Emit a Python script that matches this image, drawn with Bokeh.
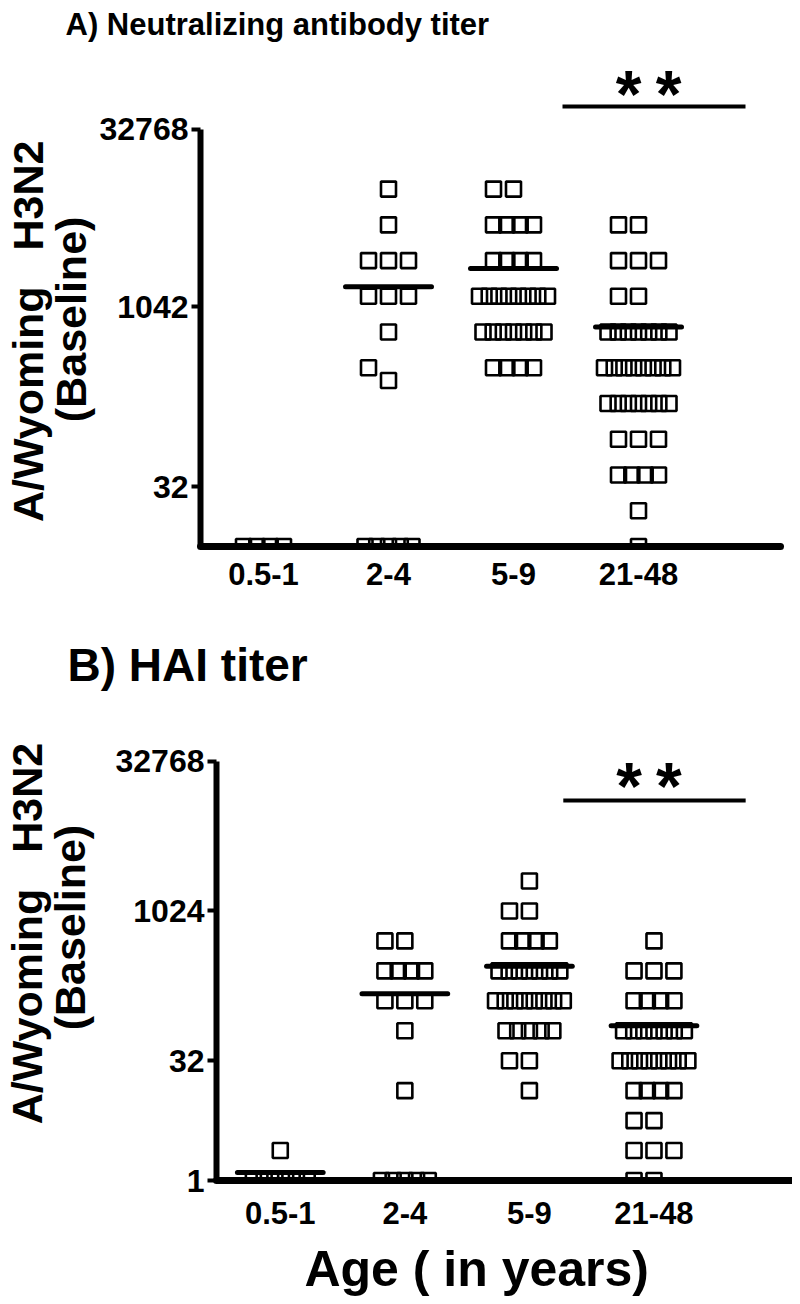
import numpy as np
from bokeh.plotting import figure
from bokeh.models import Range1d, FixedTicker, CustomJSTickFormatter
from bokeh.core.properties import value
from bokeh.embed import file_html
from bokeh.resources import INLINE

FONT = "Liberation Sans"
NB = "\u00a0"

categories = ["0.5-1", "2-4", "5-9", "21-48"]

# ---- Panel A: neutralizing antibody titer (titer value, number of subjects)
a1_titer = [10];                                              a1_count = [4]
a2_titer = [10240, 5120, 2560, 1280, 640, 320, 250, 10];      a2_count = [1, 1, 3, 3, 1, 1, 1, 5]
a3_titer = [10240, 5120, 2560, 1280, 640, 320];               a3_count = [2, 4, 4, 8, 7, 4]
a4_titer = [5120, 2560, 1280, 640, 320, 160, 80, 40, 20, 10]; a4_count = [2, 3, 2, 7, 8, 7, 3, 4, 1, 1]
a_center = [None, 1540, 2200, 705]

# ---- Panel B: HAI titer
b1_titer = [4, 2];                                            b1_count = [1, 6]
b2_titer = [512, 256, 128, 64, 16, 2];                        b2_count = [2, 4, 3, 1, 1, 5]
b3_titer = [2048, 1024, 512, 256, 128, 64, 32, 16];           b3_count = [1, 2, 4, 7, 8, 5, 2, 1]
b4_titer = [512, 256, 128, 64, 32, 16, 8, 4, 2];              b4_count = [1, 3, 4, 7, 8, 4, 2, 3, 2]
b_center = [2.4, 151, 284, 72]

a_ticks = [32, 1042, 32768]
b_ticks = [2, 32, 1024, 32768]

PX_PER_X = 125.0


def row_offsets_px(n):
    s = 20.0
    if n == 1:
        return [0.0]
    if n == 2:
        return [-s, 0.0]
    if n == 3:
        return [-s, 0.0, s]
    span = min(s * (n - 1), 40 + (n - 4) * 7)
    return list(np.linspace(-span / 2, span / 2, n))


def swarm(group_pos, titers, counts, px_per_unit, box=17.0):
    placed = []
    xs, ys = [], []
    for i in np.argsort(titers):
        t, n = titers[i], counts[i]
        ypx = np.log2(t) * px_per_unit
        for off in row_offsets_px(n):
            cand, k = off, 0
            while any(abs(cand - px) < box and 0 < abs(ypx - py) < box for px, py in placed):
                k += 1
                cand = off + (-20.0 if k % 2 else 20.0) * ((k + 1) // 2)
            placed.append((cand, ypx))
            xs.append(group_pos + cand / PX_PER_X)
            ys.append(t)
    return xs, ys


def make_panel(groups, centers, y_start, ppu, ticks, fmt_code,
               width, height, left, right, top, bottom, x_start,
               title, title_size, title_offset, title_standoff,
               bar_px, star_px, ylabel, ylabel_standoff, xtick_standoff,
               xlabel=None):
    frame_w = width - left - right
    frame_h = height - top - bottom
    y_top_log2 = np.log2(y_start) + frame_h / ppu

    def X(px):   # canvas x pixel -> data x
        return x_start + (px - left) / PX_PER_X

    def Y(py):   # canvas y pixel -> data y
        return 2 ** (np.log2(y_start) + (height - bottom - py) / ppu)

    p = figure(width=width, height=height, y_axis_type="log",
               x_range=Range1d(x_start, x_start + frame_w / PX_PER_X),
               y_range=Range1d(y_start, 2 ** y_top_log2),
               output_backend="svg", toolbar_location=None,
               min_border_left=left, min_border_right=right,
               min_border_top=top, min_border_bottom=bottom)
    p.outline_line_color = None
    p.xgrid.grid_line_color = None
    p.ygrid.grid_line_color = None
    p.background_fill_color = "white"

    p.title.text = title
    p.title.text_font = FONT
    p.title.text_font_size = title_size
    p.title.text_font_style = "bold"
    p.title.text_color = "black"
    p.title.align = "left"
    p.title.offset = title_offset
    p.title.standoff = title_standoff

    for gi, (tit, cnt) in enumerate(groups):
        xs, ys = swarm(gi + 1, tit, cnt, ppu)
        p.scatter(xs, ys, marker="square", size=15, fill_alpha=0,
                  line_color="black", line_width=2.6)
    for gi, c in enumerate(centers):
        if c is None:
            continue
        p.segment(x0=[gi + 1 - 0.344], x1=[gi + 1 + 0.344], y0=[c], y1=[c],
                  line_color="black", line_width=5, line_cap="round")

    # significance bar (5-9 vs 21-48) and stars
    (bx0, bx1, by) = bar_px
    p.segment(x0=[X(bx0)], x1=[X(bx1)], y0=[Y(by)], y1=[Y(by)],
              line_color="black", line_width=4)
    (sx0, sx1, sy) = star_px
    p.text(x=[X(sx0), X(sx1)], y=[Y(sy), Y(sy)], text=["*", "*"],
           text_font=value(FONT), text_font_size="66px", text_font_style="bold",
           text_align="center", text_baseline="middle", text_color="black")

    # axes
    p.xaxis.ticker = FixedTicker(ticks=[1, 2, 3, 4])
    p.xaxis.major_label_overrides = {i + 1: c for i, c in enumerate(categories)}
    p.xaxis.major_tick_line_color = None
    p.xaxis.major_tick_out = 0
    p.xaxis.major_tick_in = 0
    p.xaxis.minor_tick_line_color = None
    p.xaxis.axis_line_width = 7
    p.xaxis.axis_line_cap = "round"
    p.xaxis.major_label_text_font = FONT
    p.xaxis.major_label_text_font_size = "31px"
    p.xaxis.major_label_text_font_style = "bold"
    p.xaxis.major_label_text_color = "black"
    p.xaxis.major_label_standoff = xtick_standoff
    if xlabel:
        p.xaxis.axis_label = xlabel
        p.xaxis.axis_label_text_font = FONT
        p.xaxis.axis_label_text_font_size = "50px"
        p.xaxis.axis_label_text_font_style = "bold"
        p.xaxis.axis_label_text_color = "black"
        p.xaxis.axis_label_text_line_height = 0.9
        p.xaxis.axis_label_standoff = 14

    p.yaxis.ticker = FixedTicker(ticks=ticks)
    p.yaxis.formatter = CustomJSTickFormatter(code=fmt_code)
    p.yaxis.bounds = (y_start, 32768)
    p.yaxis.minor_tick_line_color = None
    p.yaxis.major_tick_in = 0
    p.yaxis.major_tick_out = 9
    p.yaxis.major_tick_line_width = 4
    p.yaxis.axis_line_width = 6
    p.yaxis.major_label_text_font = FONT
    p.yaxis.major_label_text_font_size = "32px"
    p.yaxis.major_label_text_font_style = "bold"
    p.yaxis.major_label_text_color = "black"
    p.yaxis.major_label_standoff = 3
    p.yaxis.axis_label = ylabel
    p.yaxis.axis_label_text_font = FONT
    p.yaxis.axis_label_text_font_size = "43px"
    p.yaxis.axis_label_text_font_style = "bold"
    p.yaxis.axis_label_text_color = "black"
    p.yaxis.axis_label_text_line_height = 0.88
    p.yaxis.axis_label_standoff = ylabel_standoff
    return p


pA = make_panel(
    [(a1_titer, a1_count), (a2_titer, a2_count), (a3_titer, a3_count), (a4_titer, a4_count)],
    a_center, y_start=10, ppu=35.74, ticks=a_ticks,
    fmt_code="return Math.round(tick).toString();",
    width=792, height=604, left=200, right=12, top=44, bottom=58, x_start=0.496,
    title="A) Neutralizing antibody titer", title_size="31px",
    title_offset=-135, title_standoff=6,
    bar_px=(562, 745, 106), star_px=(628, 668, 93),
    ylabel="A/Wyoming" + NB * 3 + "H3N2" + NB * 6 + "\n(Baseline)" + NB * 4,
    ylabel_standoff=2, xtick_standoff=16)

pB = make_panel(
    [(b1_titer, b1_count), (b2_titer, b2_count), (b3_titer, b3_count), (b4_titer, b4_count)],
    b_center, y_start=2, ppu=29.95, ticks=b_ticks,
    fmt_code="return tick < 3 ? '1' : Math.round(tick).toString();",
    width=792, height=700, left=214, right=0, top=118, bottom=124, x_start=0.488,
    title="B) HAI titer", title_size="46px",
    title_offset=-149, title_standoff=63,
    bar_px=(562, 745, 196), star_px=(628, 668, 181),
    ylabel=NB * 3 + "A/Wyoming" + NB * 3 + "H3N2\n" + NB * 4 + "(Baseline)",
    ylabel_standoff=19, xtick_standoff=21,
    xlabel="Age ( in years)" + NB * 4)

open("out.html", "w").write(file_html([pA, pB], INLINE))
